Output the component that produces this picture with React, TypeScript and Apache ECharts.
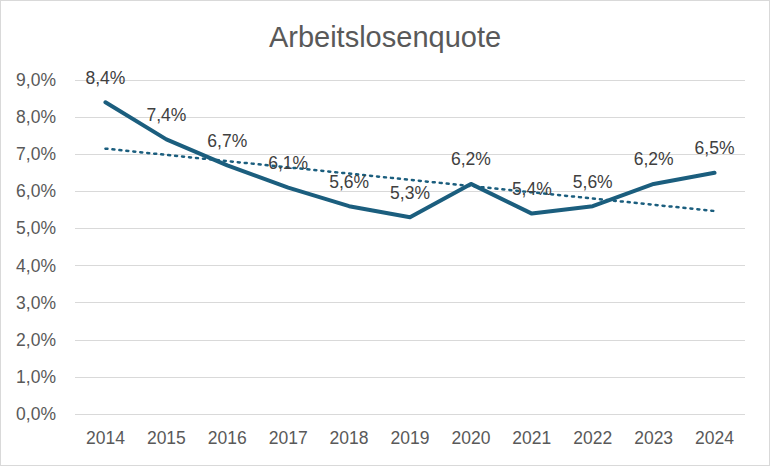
import React, { useEffect, useRef } from "react";
import * as echarts from "echarts";

const title = "Arbeitslosenquote";
const years = ["2014", "2015", "2016", "2017", "2018", "2019", "2020", "2021", "2022", "2023", "2024"];
const rates = [8.4, 7.4, 6.7, 6.1, 5.6, 5.3, 6.2, 5.4, 5.6, 6.2, 6.5];
// Linear trend line (start and end values)
const trendStart = 7.15;
const trendEnd = 5.47;

const fmt = (v: number) => v.toFixed(1).replace(".", ",") + "%";

export default function App() {
  const ref = useRef<HTMLDivElement>(null);
  useEffect(() => {
    if (!ref.current) return;
    const chart = echarts.init(ref.current, null, { renderer: "svg" });
    const trend = years.map((_, i) => (i === 0 ? trendStart : i === years.length - 1 ? trendEnd : null));
    const font = "'Liberation Sans', Arial, sans-serif";
    chart.setOption({
      animation: false,
      backgroundColor: "#ffffff",
      title: {
        text: title,
        left: "center",
        top: 16,
        textStyle: { fontFamily: font, fontSize: 29, fontWeight: "normal", color: "#595959" },
      },
      grid: { left: 74, right: 24, top: 79, bottom: 51 },
      xAxis: {
        type: "category",
        data: years,
        boundaryGap: true,
        axisLine: { show: false },
        axisTick: { show: false },
        axisLabel: { fontFamily: font, fontSize: 17.5, color: "#595959", margin: 15 },
      },
      yAxis: {
        type: "value",
        min: 0,
        max: 9,
        interval: 1,
        axisLine: { show: false },
        axisTick: { show: false },
        splitLine: { lineStyle: { color: "#d9d9d9", width: 1 } },
        axisLabel: {
          fontFamily: font,
          fontSize: 17.5,
          color: "#595959",
          margin: 19,
          formatter: (v: number) => fmt(v),
        },
      },
      series: [
        {
          type: "line",
          data: rates,
          symbol: "circle",
          symbolSize: 1,
          showSymbol: true,
          itemStyle: { color: "rgba(0,0,0,0)" },
          lineStyle: { color: "#1b5e7e", width: 4, join: "round", cap: "round" },
          label: {
            show: true,
            position: "top",
            distance: 15,
            fontFamily: font,
            fontSize: 17.5,
            color: "#404040",
            formatter: (p: any) => fmt(p.value),
          },
          labelLayout: { hideOverlap: false },
          z: 3,
        },
        {
          type: "line",
          data: trend,
          connectNulls: true,
          symbol: "none",
          lineStyle: { color: "#1b5e7e", width: 2.5, type: [2, 5], cap: "round" },
          z: 2,
        },
      ],
    });
    return () => chart.dispose();
  }, []);
  return (
    <div
      ref={ref}
      style={{
        position: "fixed",
        left: 0,
        top: 0,
        width: 770,
        height: 466,
        boxSizing: "border-box",
        border: "1px solid #d9d9d9",
      }}
    />
  );
}
